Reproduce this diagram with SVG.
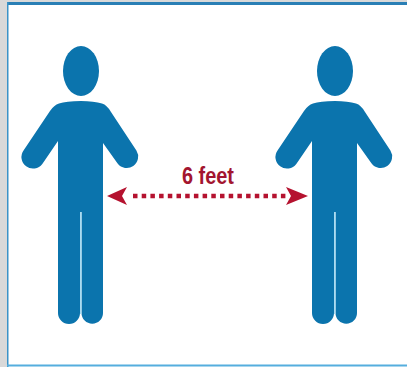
<svg xmlns="http://www.w3.org/2000/svg" width="407" height="367" viewBox="0 0 407 367">
<style>
.fig{fill:#0b74ad}
.leg{fill:none;stroke:#a9dcf2;stroke-width:1.500}
.red{fill:#b5122f}
.lbl{font-family:"Liberation Sans",sans-serif;font-size:24px;font-weight:700;fill:#a3152f}
</style>
<defs>
<g id="person">
<ellipse class="fig" cx="81" cy="71" rx="18" ry="25"/>
<path class="fig" d="M81 101Q66 101 59 103.500Q54 105 50 111L23.700 150.200A11.500 11.500 0 0 0 42.300 163.900L58 141V313A11 11 0 0 0 80 313V212H81.500V313A10.750 10.750 0 0 0 103 313V143L117.600 163.600A11.500 11.500 0 0 0 136.400 150.400L111 112Q107 105 102 103.500Q94 101 81 101Z"/>
<path class="leg" d="M80.750 212V314"/>
</g>
</defs>
<rect width="407" height="367" fill="#ffffff"/>
<rect width="7" height="367" fill="#d9d9d9"/>
<rect width="407" height="2" fill="#d9d9d9"/>
<rect x="7" y="2" width="400" height="3" fill="#2a7fb5"/>
<rect x="7" y="2" width="1.500" height="365" fill="#3b93c8"/>
<rect x="7" y="364.500" width="400" height="2" fill="#55aede"/>
<g id="person-left"><use href="#person"/></g>
<g id="person-right"><use href="#person" x="254"/></g>
<g id="connectors">
<path class="red" d="M107 196L127 187L122 196L127 205Z"/>
<path class="red" d="M308 196L286 187L291 196L286 205Z"/>
<path d="M133 196H286" fill="none" stroke="#b5122f" stroke-width="4.500" stroke-dasharray="4.500 4.200"/>
</g>
<g id="label"><text class="lbl" x="182" y="184" textLength="52" lengthAdjust="spacingAndGlyphs">6 feet</text></g>
</svg>
